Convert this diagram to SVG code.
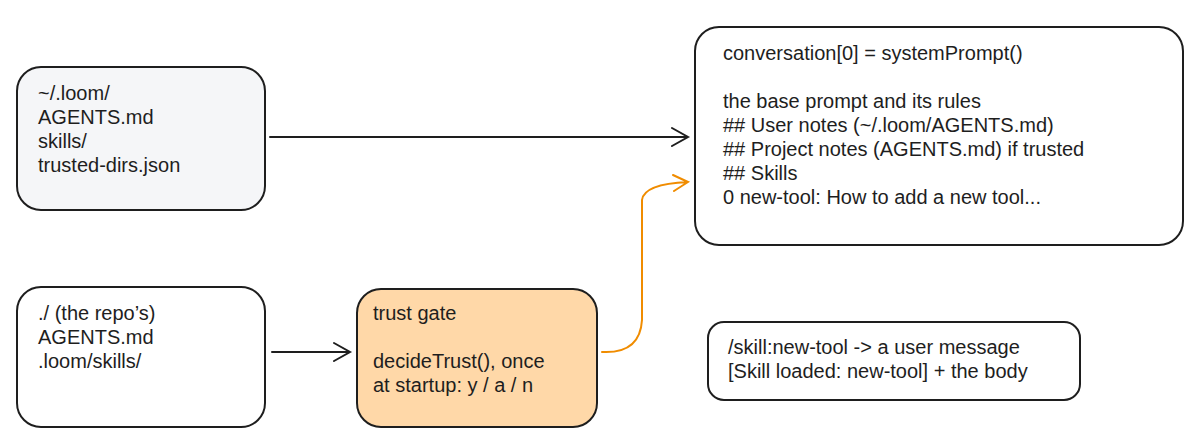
<svg xmlns="http://www.w3.org/2000/svg" width="1197" height="446" viewBox="0 0 1197 446">
<style>
.b{stroke:#1e1e1e;stroke-width:2;}
text{font-family:"Liberation Sans",Arial,sans-serif;font-size:20px;fill:#1e1e1e;}
.c{fill:none;stroke:#1e1e1e;stroke-width:2;stroke-linecap:round;}
.o{fill:none;stroke:#f08c00;stroke-width:2;stroke-linecap:round;}
</style>
<rect width="1197" height="446" fill="#fff"/>
<g id="global">
<rect class="b" x="17" y="67" width="248" height="143" rx="24" fill="#f5f6f8"/>
<text x="38" y="100">~/.loom/</text><text x="38" y="124">AGENTS.md</text><text x="38" y="148">skills/</text><text x="38" y="172">trusted-dirs.json</text>
</g>
<g id="repo">
<rect class="b" x="17" y="287" width="248" height="140" rx="24" fill="#fff"/>
<text x="38" y="320">./ (the repo’s)</text><text x="38" y="344">AGENTS.md</text><text x="38" y="368">.loom/skills/</text>
</g>
<g id="trust">
<rect class="b" x="357" y="289" width="240" height="138" rx="24" fill="#ffd8a8"/>
<text x="373" y="320">trust gate</text><text x="373" y="368">decideTrust(), once</text><text x="373" y="392">at startup: y / a / n</text>
</g>
<g id="prompt">
<rect class="b" x="695" y="27" width="488" height="218" rx="24" fill="#fff"/>
<text x="723" y="60">conversation[0] = systemPrompt()</text>
<text x="723" y="108">the base prompt and its rules</text>
<text x="723" y="132">## User notes (~/.loom/AGENTS.md)</text>
<text x="723" y="156">## Project notes (AGENTS.md) if trusted</text>
<text x="723" y="180">## Skills</text>
<text x="723" y="204">0 new-tool: How to add a new tool...</text>
</g>
<g id="skill">
<rect class="b" x="708" y="322" width="372" height="78" rx="16" fill="#fff"/>
<text x="728" y="354">/skill:new-tool -&gt; a user message</text>
<text x="728" y="378">[Skill loaded: new-tool] + the body</text>
</g>
<g id="connectors">
<path class="c" d="M270 137 L688 137 M672 128 L688 137 L672 146"/>
<path class="c" d="M272 352 L350 352 M334 343 L350 352 L334 361"/>
<path class="o" d="M602 352 Q640 354 642 320 L642 200 Q644 184 688 182 M673 175 L688 182 L674 191"/>
</g>
</svg>
